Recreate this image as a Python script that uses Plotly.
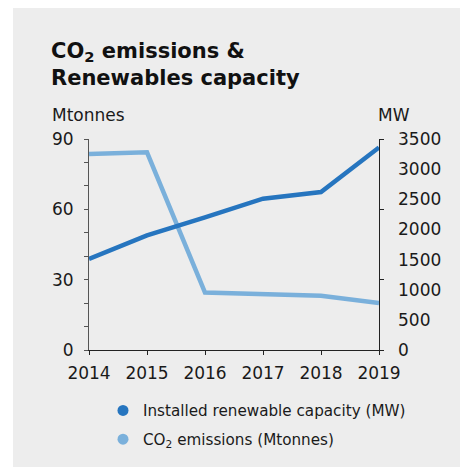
import plotly.graph_objects as go

years = [2014, 2015, 2016, 2017, 2018, 2019]
co2_mtonnes = [83.6, 84.3, 24.5, 23.8, 23.1, 20.0]
renewable_mw = [1510, 1900, 2200, 2510, 2620, 3360]

left_ticks = [0, 30, 60, 90]
right_ticks = [0, 500, 1000, 1500, 2000, 2500, 3000, 3500]
right_marks = [0, 1166.67, 2333.33, 3500]

DARK = "#2675bf"
LIGHT = "#7ab0db"
BG = "#ededed"
TXT = "#1a1a1a"
FONT = "DejaVu Sans"

# page body has an 8px margin; work in screen coordinates and convert
OFF = 8
W, H = 468 - OFF, 467 - OFF
PL, PR, PT, PB = 89, 379, 139, 351  # plot area in screen pixels
L, R, T, B = PL - OFF, W - (PR - OFF), PT - OFF, H - (PB - OFF)
pw, ph = PR - PL, PB - PT


def px(x):
    return (x - PL) / pw


def py(y):
    return (PB - y) / ph


fig = go.Figure()
fig.add_trace(go.Scatter(x=years, y=co2_mtonnes, mode="lines", yaxis="y",
                         line=dict(color=LIGHT, width=4.5), showlegend=False))
fig.add_trace(go.Scatter(x=years, y=renewable_mw, mode="lines", yaxis="y2",
                         line=dict(color=DARK, width=4.5), showlegend=False))
fig.add_trace(go.Scatter(x=[None], y=[None], yaxis="y3", mode="lines",
                         showlegend=False, hoverinfo="skip"))
# legend entries
fig.add_trace(go.Scatter(x=[None], y=[None], mode="markers", name="Installed renewable capacity (MW)",
                         marker=dict(color=DARK, size=11), legendgroup="a"))
fig.add_trace(go.Scatter(x=[None], y=[None], mode="markers", name="CO<sub>2</sub> emissions (Mtonnes)",
                         marker=dict(color=LIGHT, size=11), legendgroup="b"))

fig.update_layout(
    width=W, height=H,
    margin=dict(l=L, r=R, t=T, b=B),
    paper_bgcolor="white",
    plot_bgcolor="rgba(0,0,0,0)",
    font=dict(family=FONT, color=TXT, size=16),
    xaxis=dict(range=[2014, 2019], tickvals=years, ticks="outside", ticklen=4,
               tickcolor="#222", showline=True, linecolor="#222", linewidth=1,
               showgrid=False, zeroline=False, tickfont=dict(size=17),
               ticklabelstandoff=4),
    yaxis=dict(range=[0, 90], tickvals=left_ticks,
               ticks="outside", ticklen=4, tickcolor="#555", showline=True,
               linecolor="#555", linewidth=1, showgrid=False, zeroline=False,
               tickfont=dict(size=17), ticklabelstandoff=7,
               minor=dict(dtick=10, tick0=0, ticks="outside", ticklen=4,
                          tickcolor="#555", showgrid=False)),
    yaxis2=dict(range=[0, 3500], overlaying="y", side="right", anchor="x",
                tickvals=right_ticks, ticks="", showline=False, showgrid=False,
                zeroline=False, tickfont=dict(size=17), ticklabelstandoff=18),
    yaxis3=dict(range=[0, 3500], overlaying="y", side="right", anchor="x",
                tickvals=right_marks, ticks="outside", ticklen=4, tickcolor="#222",
                showticklabels=False, showline=True, linecolor="#222", linewidth=1,
                showgrid=False, zeroline=False),
    legend=dict(x=px(103), y=py(394), xanchor="left", yanchor="top",
                font=dict(size=15.2, color=TXT), bgcolor="rgba(0,0,0,0)",
                traceorder="grouped", tracegroupgap=6, itemclick=False),
    showlegend=True,
    shapes=[dict(type="rect", xref="paper", yref="paper", layer="below",
                 x0=px(13), x1=px(480), y0=py(480), y1=py(7),
                 fillcolor=BG, line=dict(width=0))],
    annotations=[
        dict(text="<b>CO<sub>2</sub> emissions &<br>Renewables capacity</b>",
             xref="paper", yref="paper", x=px(49), y=py(37), xanchor="left",
             yanchor="top", align="left", showarrow=False,
             font=dict(size=21, color="#111")),
        dict(text="Mtonnes", xref="paper", yref="paper", x=px(50), y=py(115),
             xanchor="left", yanchor="middle", showarrow=False,
             font=dict(size=17, color=TXT)),
        dict(text="MW", xref="paper", yref="paper", x=px(376), y=py(115),
             xanchor="left", yanchor="middle", showarrow=False,
             font=dict(size=17, color=TXT)),
    ],
)

fig.write_html("out.html")
